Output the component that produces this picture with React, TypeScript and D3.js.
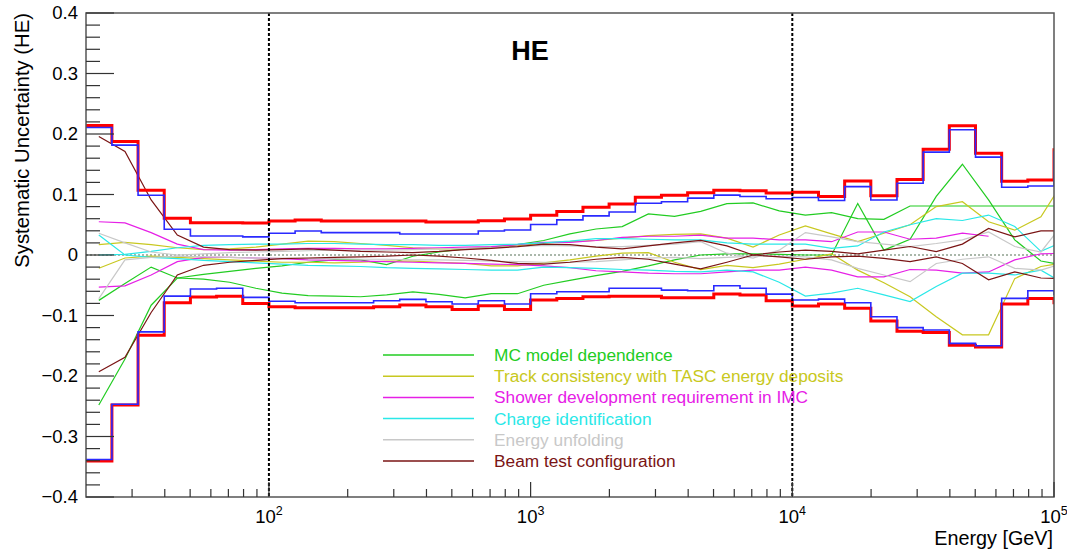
import React from "react";
import * as d3 from "d3";

// Bin edges in GeV (10 bins per decade), last bin lies beyond the frame
const EDGES = [19.95, 25.12, 31.62, 39.81, 50.12, 63.1, 79.43, 100, 125.9, 158.5, 199.5, 251.2, 316.2, 398.1, 501.2, 631.0, 794.3,
  1000, 1259, 1585, 1995, 2512, 3162, 3981, 5012, 6310, 7943, 10000, 12589, 15849, 19953, 25119, 31623, 39811, 50119, 63096,
  79433, 100000, 125893];

// Total systematic band (red) and quadrature sum (blue)
const RED_UP = [0.214, 0.1875, 0.107, 0.0607, 0.0535, 0.0535, 0.053, 0.0563, 0.058, 0.0563, 0.0563, 0.0563, 0.0563, 0.0546, 0.0546, 0.0568, 0.0596, 0.0655, 0.0717, 0.079, 0.0844, 0.0955, 0.0988, 0.103, 0.107, 0.106, 0.1025, 0.1037, 0.0966, 0.1225, 0.098, 0.125, 0.175, 0.2136, 0.168, 0.122, 0.124, 0.174];
const BLUE_UP = [0.2108, 0.1816, 0.0988, 0.0425, 0.0315, 0.0315, 0.03, 0.036, 0.0397, 0.037, 0.037, 0.037, 0.0348, 0.0348, 0.0348, 0.0397, 0.0414, 0.0505, 0.058, 0.0646, 0.071, 0.0855, 0.088, 0.094, 0.099, 0.0966, 0.093, 0.095, 0.09, 0.113, 0.091, 0.1187, 0.17, 0.207, 0.1617, 0.112, 0.114, 0.17];
const RED_LO = [-0.3405, -0.248, -0.1325, -0.079, -0.0695, -0.068, -0.08, -0.0855, -0.0872, -0.0872, -0.0872, -0.0855, -0.0828, -0.0855, -0.09, -0.084, -0.09, -0.0745, -0.0717, -0.069, -0.068, -0.068, -0.0706, -0.0706, -0.0646, -0.066, -0.0755, -0.0845, -0.081, -0.088, -0.109, -0.126, -0.128, -0.149, -0.152, -0.081, -0.0717, -0.079];
const BLUE_LO = [-0.338, -0.2467, -0.127, -0.068, -0.0563, -0.055, -0.07, -0.0765, -0.079, -0.079, -0.079, -0.0756, -0.0733, -0.0773, -0.081, -0.0756, -0.081, -0.064, -0.0607, -0.0607, -0.055, -0.055, -0.058, -0.059, -0.0508, -0.055, -0.0646, -0.0745, -0.073, -0.079, -0.102, -0.12, -0.124, -0.146, -0.15, -0.0717, -0.059, -0.065];

// Individual contributions (values at bin centres)
const MC_A = [-0.075, -0.047, -0.02, -0.038, -0.032, -0.027, -0.022, -0.018, -0.012, -0.008, -0.008, -0.016, -0.002, 0.005, 0.01, 0.013, 0.017, 0.024, 0.035, 0.043, 0.047, 0.068, 0.064, 0.072, 0.085, 0.086, 0.073, 0.066, 0.07, 0.06, 0.059, 0.081, 0.081, 0.081, 0.081, 0.081, 0.081, 0.081];
const MC_B = [-0.248, -0.172, -0.083, -0.038, -0.04, -0.045, -0.055, -0.063, -0.067, -0.068, -0.069, -0.066, -0.061, -0.065, -0.071, -0.064, -0.064, -0.05, -0.042, -0.034, -0.027, -0.018, -0.008, 0.0, 0.002, 0.002, 0.001, 0.0, 0.0, 0.085, 0.008, 0.026, 0.097, 0.15, 0.091, 0.025, -0.01, -0.018];
const TRACK_UP = [0.017, 0.021, 0.017, 0.012, 0.009, 0.01, 0.013, 0.018, 0.023, 0.022, 0.019, 0.016, 0.012, 0.01, 0.01, 0.012, 0.015, 0.02, 0.022, 0.024, 0.028, 0.032, 0.034, 0.035, 0.028, 0.013, 0.033, 0.048, 0.035, 0.022, 0.036, 0.05, 0.08, 0.088, 0.055, 0.041, 0.063, 0.132];
const TRACK_LO = [-0.022, -0.005, -0.002, -0.004, -0.006, -0.008, -0.01, -0.012, -0.012, -0.013, -0.012, -0.01, -0.01, -0.012, -0.014, -0.018, -0.018, -0.013, -0.008, -0.002, 0.003, 0.004, -0.012, -0.024, -0.017, -0.021, -0.015, -0.007, 0.002, -0.025, -0.046, -0.069, -0.102, -0.132, -0.132, -0.039, -0.019, -0.012];
const SHOWER_UP = [0.055, 0.053, 0.037, 0.018, 0.009, 0.008, 0.009, 0.01, 0.011, 0.011, 0.01, 0.01, 0.011, 0.012, 0.013, 0.014, 0.017, 0.021, 0.021, 0.024, 0.029, 0.031, 0.031, 0.033, 0.028, 0.028, 0.025, 0.025, 0.022, 0.038, 0.038, 0.026, 0.028, 0.036, 0.031, null, null, null];
const SHOWER_LO = [-0.053, -0.051, -0.033, -0.011, -0.004, -0.004, -0.005, -0.006, -0.008, -0.009, -0.01, -0.011, -0.012, -0.013, -0.014, -0.015, -0.016, -0.018, -0.021, -0.026, -0.028, -0.03, -0.031, -0.031, -0.028, -0.025, -0.025, -0.02, -0.025, -0.036, -0.036, -0.024, -0.025, -0.03, -0.028, -0.008, 0.002, 0.003];
const CHARGE_UP = [0.0, 0.001, 0.006, 0.012, 0.016, 0.017, 0.018, 0.018, 0.019, 0.019, 0.018, 0.017, 0.017, 0.016, 0.016, 0.017, 0.018, 0.02, 0.023, 0.027, 0.027, 0.026, 0.025, 0.025, 0.02, 0.018, 0.018, 0.018, 0.011, 0.015, 0.038, 0.05, 0.06, 0.057, 0.066, 0.047, 0.006, 0.025];
const CHARGE_LO = [0.033, 0.0, -0.004, -0.006, -0.009, -0.011, -0.013, -0.015, -0.017, -0.018, -0.019, -0.021, -0.022, -0.023, -0.024, -0.025, -0.025, -0.02, -0.021, -0.022, -0.024, -0.025, -0.027, -0.028, -0.025, -0.028, -0.045, -0.068, -0.063, -0.055, -0.066, -0.077, -0.052, -0.03, -0.03, -0.033, -0.025, -0.05];
const UNFOLD_UP = [0.036, 0.02, 0.005, 0.0, 0.002, 0.004, 0.005, 0.006, 0.007, 0.008, 0.008, 0.008, 0.009, 0.01, 0.011, 0.012, 0.014, 0.016, 0.015, 0.014, 0.014, 0.016, 0.018, 0.022, 0.003, -0.005, 0.008, 0.037, 0.03, 0.022, 0.018, 0.014, 0.019, 0.025, 0.038, 0.014, 0.005, 0.06];
const UNFOLD_LO = [-0.072, -0.008, -0.004, -0.002, -0.003, -0.004, -0.005, -0.005, -0.006, -0.006, -0.007, -0.007, -0.008, -0.008, -0.009, -0.01, -0.011, -0.012, -0.012, -0.011, -0.008, -0.005, -0.004, -0.006, -0.004, -0.002, -0.002, -0.003, -0.008, -0.022, -0.033, -0.044, -0.014, -0.007, -0.003, -0.022, -0.025, -0.012];
const BEAM_UP = [0.196, 0.171, 0.091, 0.033, 0.013, 0.009, 0.008, 0.009, 0.01, 0.008, 0.006, 0.005, 0.004, 0.006, 0.009, 0.011, 0.014, 0.018, 0.017, 0.013, 0.01, 0.015, 0.02, 0.024, 0.015, 0.0, 0.005, 0.008, 0.006, 0.002, 0.008, 0.014, 0.0055, 0.018, 0.044, 0.03, 0.04, 0.04];
const BEAM_LO = [-0.193, -0.169, -0.095, -0.033, -0.017, -0.012, -0.009, -0.006, -0.005, -0.004, -0.003, -0.002, 0.0, -0.002, -0.005, -0.009, -0.014, -0.015, -0.012, -0.007, -0.004, -0.007, -0.015, -0.023, -0.012, 0.0, -0.003, -0.007, -0.003, -0.002, -0.0055, -0.011, -0.003, -0.014, -0.041, -0.028, -0.038, -0.039];

const LEGEND = [
  { label: "MC model dependence", color: "#22cc22", series: [MC_A, MC_B] },
  { label: "Track consistency with TASC energy deposits", color: "#c8c820", series: [TRACK_UP, TRACK_LO] },
  { label: "Shower development requirement in IMC", color: "#e620e6", series: [SHOWER_UP, SHOWER_LO] },
  { label: "Charge identification", color: "#2ae8e8", series: [CHARGE_UP, CHARGE_LO] },
  { label: "Energy unfolding", color: "#c8c8c8", series: [UNFOLD_UP, UNFOLD_LO] },
  { label: "Beam test configuration", color: "#7a1414", series: [BEAM_UP, BEAM_LO] },
];

const Y_TICKS = [-0.4, -0.3, -0.2, -0.1, 0, 0.1, 0.2, 0.3, 0.4];
const X_DECADES = [{ v: 100, e: "2" }, { v: 1000, e: "3" }, { v: 10000, e: "4" }, { v: 100000, e: "5" }];
const VLINES = [100, 10000];

const FONT = "'Liberation Sans', Arial, Helvetica, sans-serif";

export default function App() {
  const L = 86, R = 1054, T = 13, B = 497;
  const x = d3.scaleLog().domain([20, 1e5]).range([L, R]);
  const y = d3.scaleLinear().domain([-0.4, 0.4]).range([B, T]);

  const centers = EDGES.slice(0, -1).map((e, i) => Math.sqrt(e * EDGES[i + 1]));

  const stepLine = d3
    .line<[number, number]>()
    .x((d) => x(d[0]))
    .y((d) => y(d[1]))
    .curve(d3.curveStepAfter);
  const histPath = (vals: number[]) => {
    const pts: [number, number][] = vals.map((v, i) => [EDGES[i], v]);
    pts.push([EDGES[vals.length], vals[vals.length - 1]]);
    return stepLine(pts) || "";
  };

  const graphLine = d3
    .line<number | null>()
    .defined((d) => d !== null)
    .x((_, i) => x(centers[i]))
    .y((d) => y(d as number));

  const minorY = d3.range(-40, 41, 2).map((k) => k / 100).filter((v) => Math.abs(Math.round(v * 10) - v * 10) > 1e-6);
  const minorX = x.ticks().filter((v) => v > 20 && v < 1e5 && ![100, 1000, 10000].includes(v));

  const fmt = (v: number) => (Math.abs(v) < 1e-9 ? "0" : v.toFixed(1).replace("-", "\u2212"));

  const legX1 = 383, legX2 = 474, legTx = 494, legY0 = 355, legDy = 21.2;

  return (
    <svg width={1067} height={550} style={{ position: "absolute", left: 0, top: 0, background: "#fff" }} fontFamily={FONT}>
      <defs>
        <clipPath id="plot">
          <rect x={L} y={T} width={R - L} height={B - T} />
        </clipPath>
      </defs>
      <rect x={0} y={0} width={1067} height={550} fill="#fff" />

      <g clipPath="url(#plot)">
        <line x1={L} x2={R} y1={y(0)} y2={y(0)} stroke="#8fa08f" strokeWidth={1.5} strokeDasharray="2,2" />
        {LEGEND.map((s) =>
          s.series.map((vals, j) => (
            <path key={s.label + j} d={graphLine(vals) || ""} fill="none" stroke={s.color} strokeWidth={1.2} />
          ))
        )}
        <path d={histPath(RED_UP)} fill="none" stroke="#ff0000" strokeWidth={3} />
        <path d={histPath(RED_LO)} fill="none" stroke="#ff0000" strokeWidth={3} />
        <path d={histPath(BLUE_UP)} fill="none" stroke="#2a2aff" strokeWidth={1.6} />
        <path d={histPath(BLUE_LO)} fill="none" stroke="#2a2aff" strokeWidth={1.6} />
        {VLINES.map((v) => (
          <line key={v} x1={x(v)} x2={x(v)} y1={T} y2={B} stroke="#000" strokeWidth={2} strokeDasharray="3,2" />
        ))}
      </g>

      {/* frame */}
      <rect x={L} y={T} width={R - L} height={B - T} fill="none" stroke="#555" strokeWidth={1.5} />

      {/* y ticks */}
      {Y_TICKS.map((v) => (
        <g key={"yt" + v}>
          <line x1={L} x2={L + 28} y1={y(v)} y2={y(v)} stroke="#333" strokeWidth={1.2} />
          <text x={78} y={y(v)} dy="0.35em" textAnchor="end" fontSize={18.5} fill="#000">
            {fmt(v)}
          </text>
        </g>
      ))}
      {minorY.map((v) => (
        <line key={"ym" + v} x1={L} x2={L + 14} y1={y(v)} y2={y(v)} stroke="#333" strokeWidth={1.2} />
      ))}

      {/* x ticks */}
      {minorX.map((v) => (
        <line key={"xm" + v} x1={x(v)} x2={x(v)} y1={B} y2={B - 8} stroke="#333" strokeWidth={1.2} />
      ))}
      {X_DECADES.map((d) => (
        <g key={"xt" + d.v}>
          <line x1={x(d.v)} x2={x(d.v)} y1={B} y2={B - 15} stroke="#333" strokeWidth={1.2} />
          <text x={x(d.v)} y={523} textAnchor="middle" fontSize={18.5} fill="#000">
            <tspan>10</tspan>
            <tspan dy={-8} fontSize={12.5}>
              {d.e}
            </tspan>
          </text>
        </g>
      ))}

      {/* axis titles */}
      <text x={1053} y={545} textAnchor="end" fontSize={19.8} fill="#000">
        Energy [GeV]
      </text>
      <text transform={`translate(29,${T}) rotate(-90)`} textAnchor="end" fontSize={20.3} fill="#000">
        Systematic Uncertainty (HE)
      </text>

      {/* title */}
      <text x={530} y={60} textAnchor="middle" fontSize={27} fontWeight="bold" fill="#000">
        HE
      </text>

      {/* legend */}
      {LEGEND.map((s, i) => {
        const ly = legY0 + i * legDy;
        return (
          <g key={"lg" + i}>
            <line x1={legX1} x2={legX2} y1={ly} y2={ly} stroke={s.color} strokeWidth={1.5} />
            <text x={legTx} y={ly} dy="0.35em" fontSize={17.3} fill={s.color}>
              {s.label}
            </text>
          </g>
        );
      })}
    </svg>
  );
}
